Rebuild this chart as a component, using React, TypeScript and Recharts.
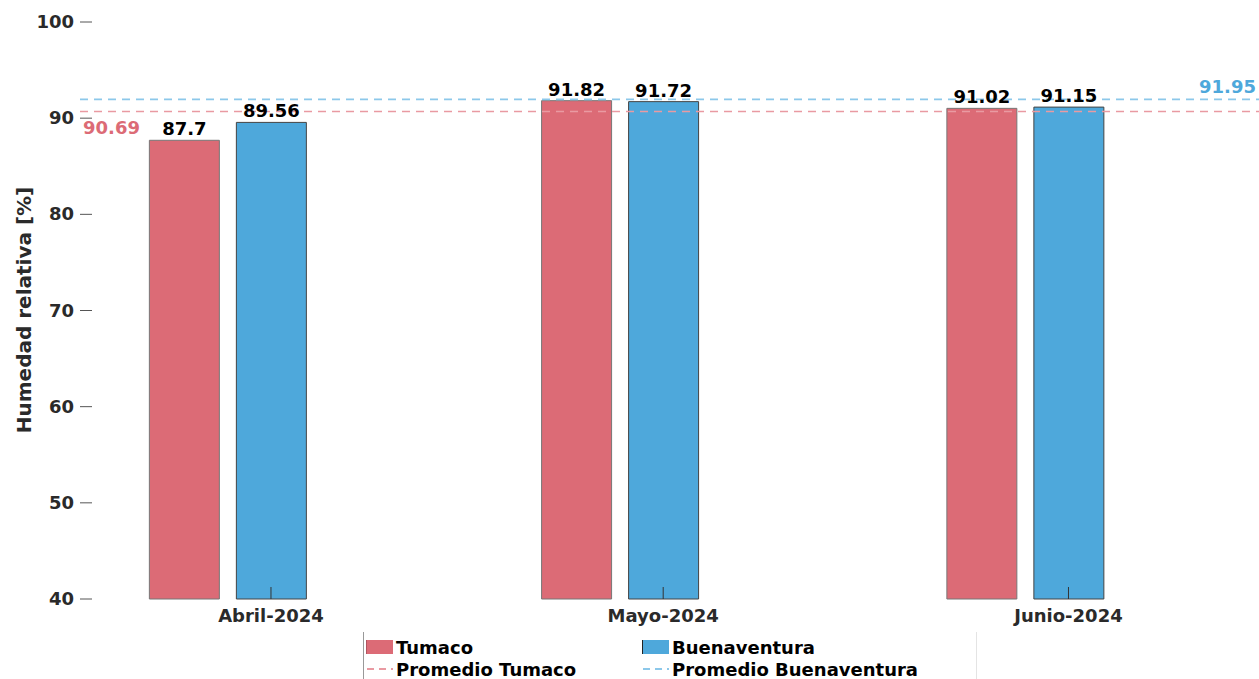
import { BarChart, Bar, XAxis, YAxis, ReferenceLine, LabelList } from "recharts";

const months = ["Abril-2024", "Mayo-2024", "Junio-2024"];
const monthStarts = ["2024-04-01", "2024-05-01", "2024-06-01"];
const tumaco = [87.7, 91.82, 91.02];
const buenaventura = [89.56, 91.72, 91.15];
const promedioTumaco = 90.69;
const promedioBuenaventura = 91.95;
const yTicks = [40, 50, 60, 70, 80, 90, 100];

const DAY = 86400000;
const t0 = Date.parse(monthStarts[0]);
const data = months.map((m, i) => ({
  month: m,
  day: (Date.parse(monthStarts[i]) - t0) / DAY,
  tumaco: tumaco[i],
  buenaventura: buenaventura[i],
}));
const lastDay = data[data.length - 1].day;

const RED = "#dc6b76";
const BLUE = "#4ea8db";
const RED_DASH = "#e99aa2";
const BLUE_DASH = "#8cc8ea";
const FONT = "'DejaVu Sans', Verdana, sans-serif";
const INK = "#2a2a2a";

const BAR = 70;
const GAP = 17;

function YTick({ x, y, payload }: any) {
  return (
    <g>
      <line x1={x + 6} x2={x + 18} y1={y} y2={y} stroke="#555" strokeWidth={1} />
      <text x={x} y={y} dy={6} textAnchor="end" fontFamily={FONT} fontWeight="bold" fontSize={18} fill={INK}>
        {payload.value}
      </text>
    </g>
  );
}

function XTick({ x, y, index }: any) {
  const cx = x + (BAR + GAP) / 2;
  return (
    <g>
      <line x1={cx} x2={cx} y1={y - 12} y2={y} stroke="#333" strokeWidth={1} />
      <text x={cx} y={y + 23} textAnchor="middle" fontFamily={FONT} fontWeight="bold" fontSize={18} fill={INK}>
        {months[index]}
      </text>
    </g>
  );
}

const labelStyle = { fontFamily: FONT, fontWeight: "bold", fontSize: 18, fill: "#000" };

export default function App() {
  return (
    <div style={{ position: "absolute", left: 0, top: 0, width: 1259, height: 679, background: "#fff" }}>
      <BarChart
        width={1259}
        height={679}
        data={data}
        margin={{ top: 22, right: 0, bottom: 20, left: 0 }}
        barSize={BAR}
        barGap={GAP}
      >
        <XAxis
          type="number"
          dataKey="day"
          domain={[-11.28, lastDay + 17.9]}
          ticks={data.map((d) => d.day)}
          allowDataOverflow
          axisLine={false}
          tickLine={false}
          tickSize={0}
          tickMargin={0}
          height={60}
          tick={<XTick />}
        />
        <YAxis
          type="number"
          domain={[40, 100]}
          ticks={yTicks}
          width={80}
          axisLine={false}
          tickLine={false}
          tickSize={0}
          tickMargin={6}
          tick={<YTick />}
          label={{
            content: () => (
              <text
                transform="translate(24,310) rotate(-90)"
                textAnchor="middle"
                dominantBaseline="central"
                fontFamily={FONT}
                fontWeight="bold"
                fontSize={20}
                fill={INK}
              >
                Humedad relativa [%]
              </text>
            ),
          }}
        />
        <Bar dataKey="tumaco" fill={RED} stroke="#777" strokeWidth={1} isAnimationActive={false}>
          <LabelList dataKey="tumaco" position="top" offset={5} style={labelStyle} />
        </Bar>
        <Bar dataKey="buenaventura" fill={BLUE} stroke="#444" strokeWidth={1} isAnimationActive={false}>
          <LabelList dataKey="buenaventura" position="top" offset={5} style={labelStyle} />
        </Bar>
        <ReferenceLine
          y={promedioTumaco}
          stroke={RED_DASH}
          strokeWidth={1.6}
          strokeDasharray="8 6"
          label={{
            content: ({ viewBox }: any) => (
              <text x={viewBox.x + 3} y={viewBox.y + 22} fontFamily={FONT} fontWeight="bold" fontSize={18} fill={RED}>
                {promedioTumaco}
              </text>
            ),
          }}
        />
        <ReferenceLine
          y={promedioBuenaventura}
          stroke={BLUE_DASH}
          strokeWidth={1.6}
          strokeDasharray="8 6"
          label={{
            content: ({ viewBox }: any) => (
              <text
                x={viewBox.x + viewBox.width - 3}
                y={viewBox.y - 6}
                textAnchor="end"
                fontFamily={FONT}
                fontWeight="bold"
                fontSize={18}
                fill={BLUE}
              >
                {promedioBuenaventura}
              </text>
            ),
          }}
        />
      </BarChart>
      <div
        style={{
          position: "absolute",
          left: 363,
          top: 632,
          width: 612,
          height: 47,
          borderLeft: "1px solid #999",
          borderRight: "1px solid #e4e4e4",
          fontFamily: FONT,
          fontWeight: "bold",
          fontSize: 18,
          color: "#000",
        }}
      >
        <LegendItem left={2} top={5} label="Tumaco" swatch={RED} border="#b05560" />
        <LegendItem left={278} top={5} label="Buenaventura" swatch={BLUE} border="#222" />
        <LegendItem left={2} top={27} label="Promedio Tumaco" dash={RED_DASH} />
        <LegendItem left={278} top={27} label="Promedio Buenaventura" dash={BLUE_DASH} />
      </div>
    </div>
  );
}

function LegendItem({ left, top, label, swatch, border, dash }: any) {
  return (
    <div style={{ position: "absolute", left, top, height: 20, display: "flex", alignItems: "center", whiteSpace: "nowrap" }}>
      {swatch ? (
        <div style={{ width: 27, height: 14, background: swatch, borderLeft: `1px solid ${border}`, boxSizing: "border-box" }} />
      ) : (
        <svg width={27} height={14}>
          <line x1={1} x2={27} y1={7} y2={7} stroke={dash} strokeWidth={2} strokeDasharray="7 5" />
        </svg>
      )}
      <span style={{ marginLeft: 3 }}>{label}</span>
    </div>
  );
}
